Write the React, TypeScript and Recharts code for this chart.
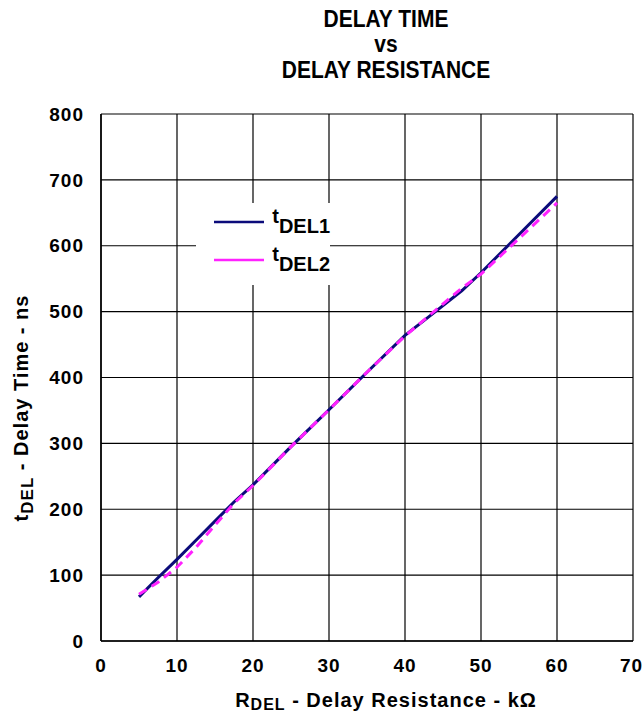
import React from 'react';
import { LineChart, Line, XAxis, YAxis, CartesianGrid } from 'recharts';

const resistance = [5, 7.5, 10, 12.5, 15, 17.5, 20, 25, 30, 35, 40, 44, 47.5, 50, 55, 60];
const tDel1 = [67, 96, 124, 153, 182, 211, 237, 295, 351, 408, 464, 500, 532, 559, 617, 675];
const tDel2 = [71, 89, 112, 142, 176, 209, 236, 295, 351, 408, 463, 502, 536, 557, 611, 665];
const xTicks = [0, 10, 20, 30, 40, 50, 60, 70];
const yTicks = [0, 100, 200, 300, 400, 500, 600, 700, 800];

const data = resistance.map((r, i) => ({ r, t1: tDel1[i], t2: tDel2[i] }));

const FONT = '"Liberation Sans", Arial, Helvetica, sans-serif';

function LegendBox() {
  const row = (color: string, sub: string) => (
    <div style={{ display: 'flex', alignItems: 'center', height: 38 }}>
      <svg width={52} height={10} style={{ marginRight: 8 }}>
        <line x1={0} y1={5} x2={50} y2={5} stroke={color} strokeWidth={2.5} />
      </svg>
      <span style={{ fontSize: 20, fontWeight: 'bold', position: 'relative', top: -6 }}>t</span>
      <span style={{ fontSize: 20, fontWeight: 'bold', position: 'relative', top: 4 }}>{sub}</span>
    </div>
  );
  return (
    <div
      style={{
        position: 'absolute',
        left: 196,
        top: 203,
        width: 116,
        padding: '0 0 6px 18px',
        background: '#fff',
        fontFamily: FONT,
        color: '#000',
      }}
    >
      {row('#0b0b7a', 'DEL1')}
      {row('#ff22ff', 'DEL2')}
    </div>
  );
}

const YLabel = () => (
  <text
    transform="translate(28, 408) rotate(-90)"
    textAnchor="middle"
    fontFamily={FONT}
    fontWeight="bold"
    fontSize={20}
    letterSpacing={1}
    fill="#000"
  >
    <tspan>t</tspan>
    <tspan dy={5} fontSize={17}>DEL</tspan>
    <tspan dy={-5}> - Delay Time - ns</tspan>
  </text>
);

const XLabel = () => (
  <text x={386} y={707} textAnchor="middle" fontFamily={FONT} fontWeight="bold" fontSize={20} letterSpacing={1} fill="#000">
    <tspan>R</tspan>
    <tspan dy={3} fontSize={16}>DEL</tspan>
    <tspan dy={-3}> - Delay Resistance - kΩ</tspan>
  </text>
);

const tickStyle = { fill: '#000', fontSize: 19, fontWeight: 'bold', fontFamily: FONT, letterSpacing: 1 };

export default function App() {
  return (
    <div style={{ position: 'absolute', left: 0, top: 0, width: 642, height: 714, background: '#fff' }}>
      <div
        style={{
          position: 'absolute',
          left: 266,
          width: 240,
          top: 6,
          textAlign: 'center',
          fontFamily: FONT,
          fontWeight: 'bold',
          fontSize: 21,
          lineHeight: '23px',
          color: '#000',
          transform: 'scaleY(1.1)',
          transformOrigin: 'top',
        }}
      >
        DELAY TIME
        <br />
        vs
        <br />
        DELAY RESISTANCE
      </div>
      <LineChart
        width={642}
        height={714}
        data={data}
        margin={{ top: 114, right: 9, bottom: 33, left: 41 }}
        style={{ position: 'absolute', left: 0, top: 0 }}
      >
        <CartesianGrid stroke="#000" strokeWidth={1.2} />
        <XAxis
          dataKey="r"
          type="number"
          domain={[0, 70]}
          ticks={xTicks}
          tickLine={false}
          axisLine={{ stroke: '#000', strokeWidth: 1.5 }}
          height={40}
          tickMargin={12}
          tick={tickStyle}
        />
        <YAxis
          type="number"
          domain={[0, 800]}
          ticks={yTicks}
          tickLine={false}
          axisLine={{ stroke: '#000', strokeWidth: 1.5 }}
          width={60}
          tickMargin={11}
          tick={tickStyle}
        />
        <Line
          dataKey="t1"
          name="tDEL1"
          type="linear"
          stroke="#0b0b7a"
          strokeWidth={3}
          dot={false}
          isAnimationActive={false}
        />
        <Line
          dataKey="t2"
          name="tDEL2"
          type="linear"
          stroke="#ff22ff"
          strokeWidth={3}
          strokeDasharray="9 6"
          dot={false}
          isAnimationActive={false}
        />
        <YLabel />
        <XLabel />
      </LineChart>
      <LegendBox />
    </div>
  );
}
